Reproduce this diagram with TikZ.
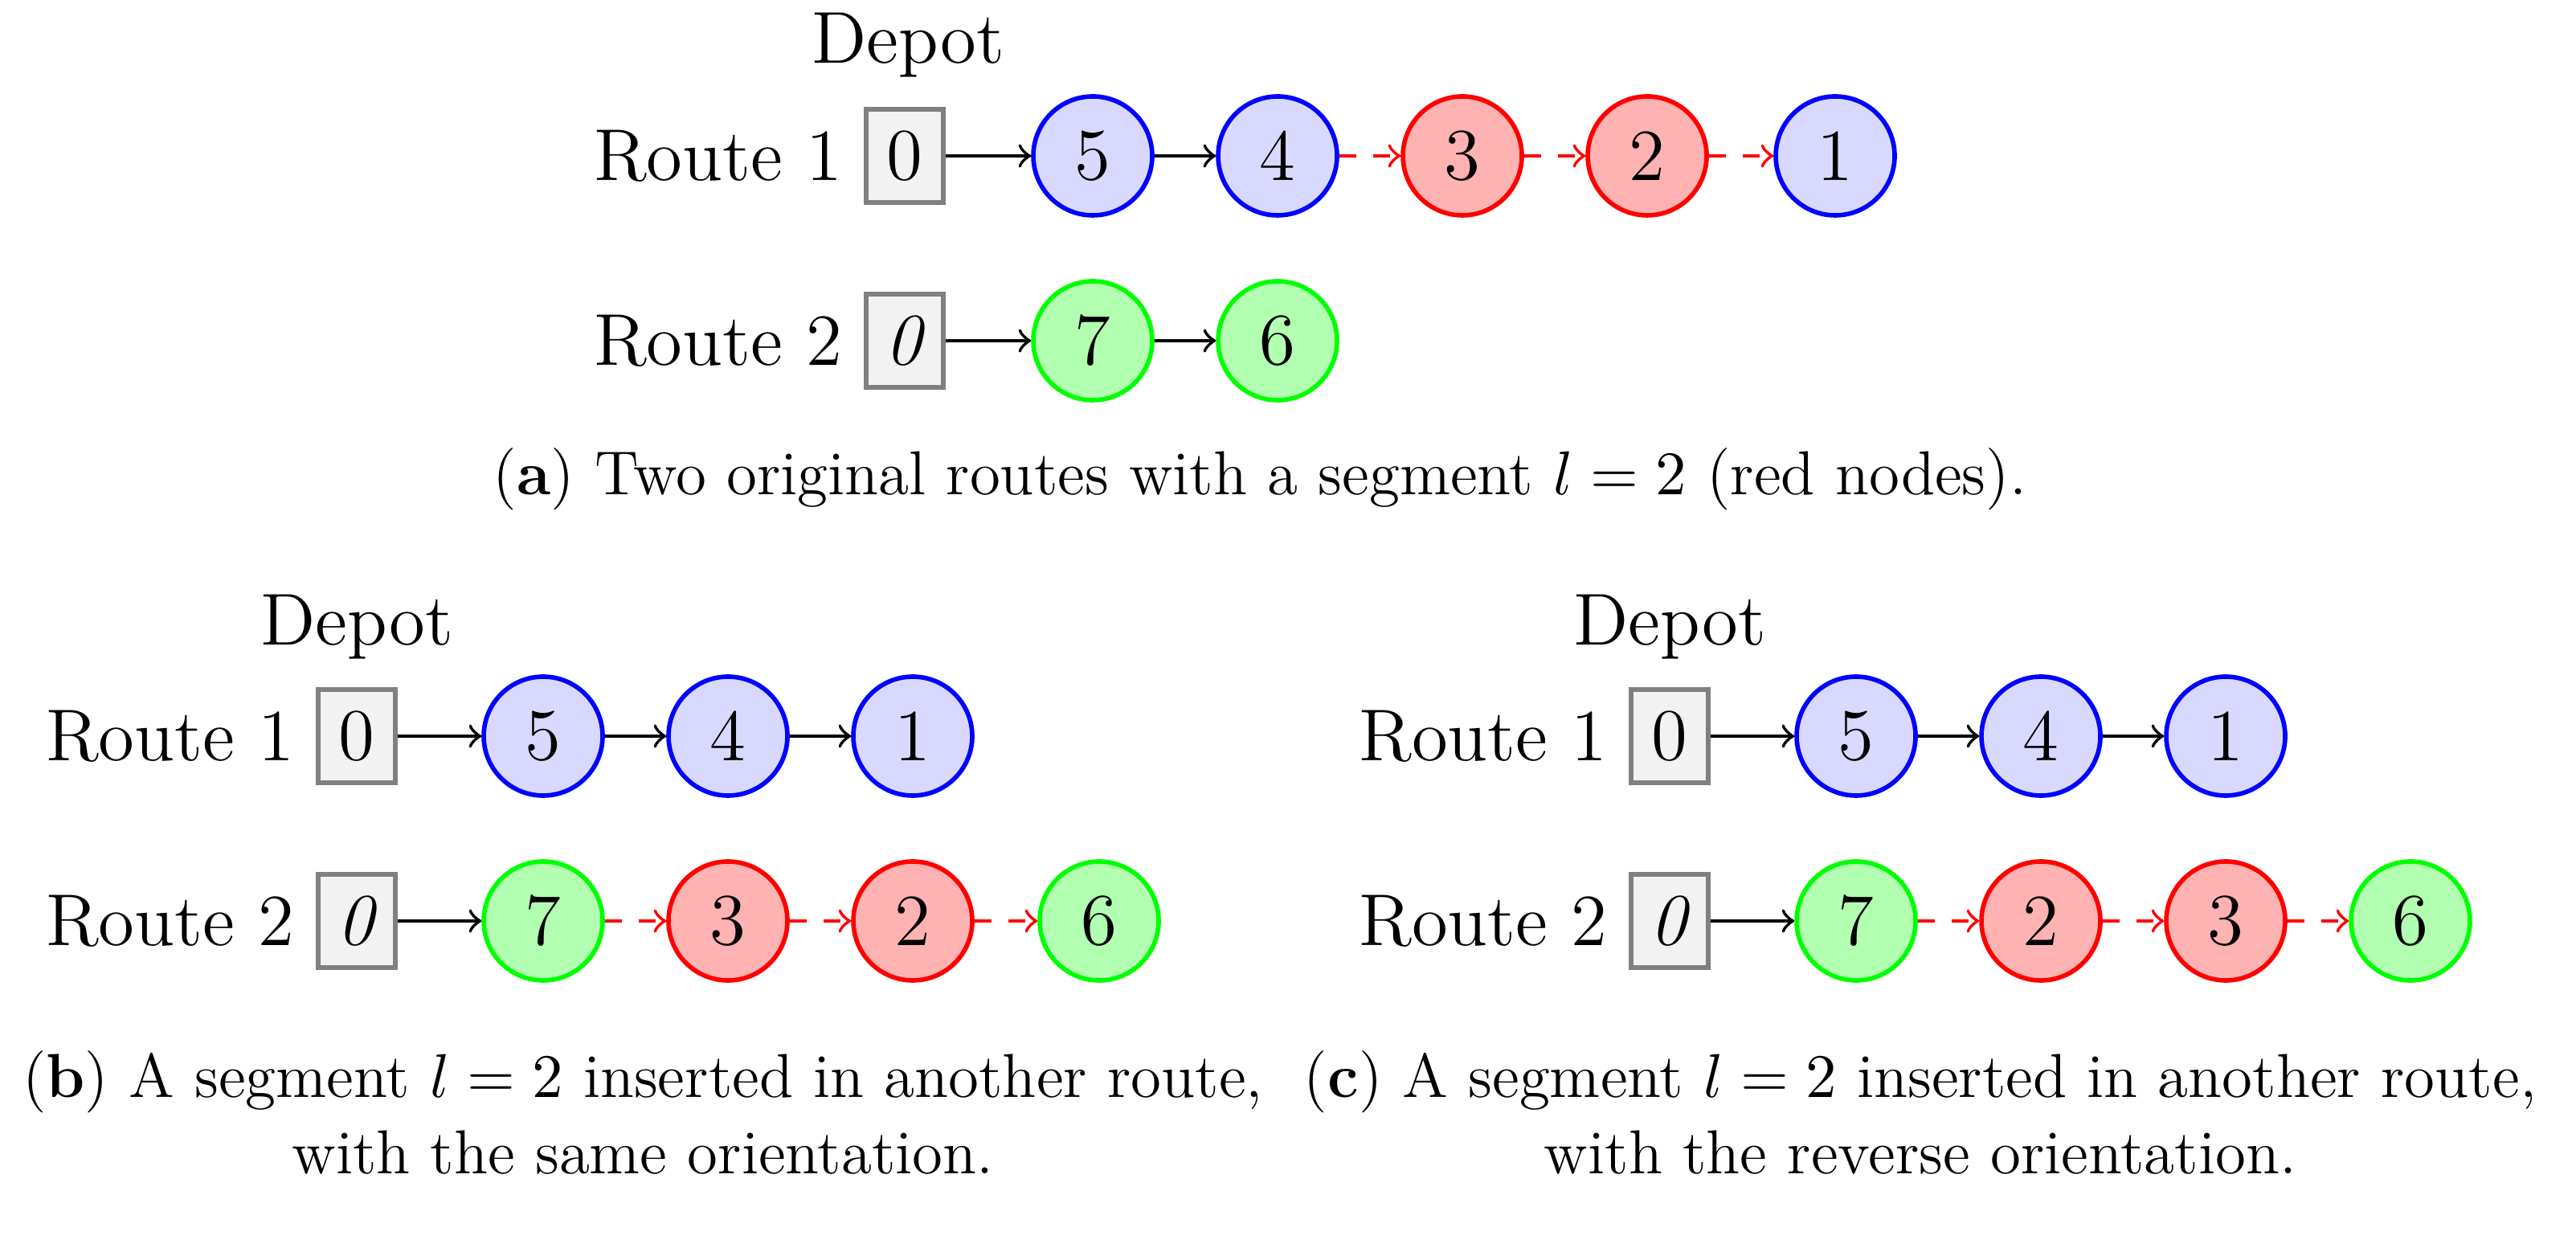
\documentclass[tikz,border=0pt]{standalone}
\usepackage{tikz}
\usetikzlibrary{positioning}
\begin{document}
\begin{tikzpicture}[
    font=\fontsize{13}{16}\selectfont,
    depot/.style={rectangle, draw=gray, fill=gray!10, thick, minimum width=0.48cm, minimum height=0.58cm, inner sep=1pt},
    blue node/.style={circle, draw=blue, fill=blue!15, thick, minimum size=0.74cm, inner sep=0pt},
    red node/.style={circle, draw=red, fill=red!30, thick, minimum size=0.74cm, inner sep=0pt},
    green node/.style={circle, draw=green, fill=green!30, thick, minimum size=0.74cm, inner sep=0pt},
    label/.style={anchor=east, inner sep=0pt},
    caption/.style={font=\fontsize{11}{13.5}\selectfont, align=center},
    arrow/.style={->, semithick},
    seg/.style={->, semithick, red, dashed}
]
\useasboundingbox (0,0) rectangle (16.03,-7.69);

% (a) original routes
\node (aDepot) at (5.65,-0.28) {Depot};
\node[label] (aR1) at (5.25,-0.97) {Route 1};
\node[depot] (a0) at (5.63,-0.97) {0};
\node[blue node] (a5) at (6.80,-0.97) {5};
\node[blue node] (a4) at (7.95,-0.97) {4};
\node[red node] (a3) at (9.10,-0.97) {3};
\node[red node] (a2) at (10.25,-0.97) {2};
\node[blue node] (a1) at (11.42,-0.97) {1};
\node[label] (aR2) at (5.25,-2.12) {Route 2};
\node[depot] (ao) at (5.63,-2.12) {\textit{0}};
\node[green node] (a7) at (6.80,-2.12) {7};
\node[green node] (a6) at (7.95,-2.12) {6};
\draw[arrow] (a0) -- (a5);
\draw[arrow] (a5) -- (a4);
\draw[seg] (a4) -- (a3);
\draw[seg] (a3) -- (a2);
\draw[seg] (a2) -- (a1);
\draw[arrow] (ao) -- (a7);
\draw[arrow] (a7) -- (a6);
\node[caption] (capA) at (7.84,-2.98) {(\textbf{a}) Two original routes with a segment $l=2$ (red nodes).};

% (b) same orientation
\node (bDepot) at (2.22,-3.90) {Depot};
\node[label] (bR1) at (1.84,-4.58) {Route 1};
\node[depot] (b0) at (2.22,-4.58) {0};
\node[blue node] (b5) at (3.38,-4.58) {5};
\node[blue node] (b4) at (4.53,-4.58) {4};
\node[blue node] (b1) at (5.68,-4.58) {1};
\node[label] (bR2) at (1.84,-5.73) {Route 2};
\node[depot] (bo) at (2.22,-5.73) {\textit{0}};
\node[green node] (b7) at (3.38,-5.73) {7};
\node[red node] (b3) at (4.53,-5.73) {3};
\node[red node] (b2) at (5.68,-5.73) {2};
\node[green node] (b6) at (6.84,-5.73) {6};
\draw[arrow] (b0) -- (b5);
\draw[arrow] (b5) -- (b4);
\draw[arrow] (b4) -- (b1);
\draw[arrow] (bo) -- (b7);
\draw[seg] (b7) -- (b3);
\draw[seg] (b3) -- (b2);
\draw[seg] (b2) -- (b6);
\node[caption] (capB) at (4.00,-6.92) {(\textbf{b}) A segment $l=2$ inserted in another route,\\with the same orientation.};

% (c) reverse orientation
\node (cDepot) at (10.39,-3.90) {Depot};
\node[label] (cR1) at (10.01,-4.58) {Route 1};
\node[depot] (c0) at (10.39,-4.58) {0};
\node[blue node] (c5) at (11.55,-4.58) {5};
\node[blue node] (c4) at (12.70,-4.58) {4};
\node[blue node] (c1) at (13.85,-4.58) {1};
\node[label] (cR2) at (10.01,-5.73) {Route 2};
\node[depot] (co) at (10.39,-5.73) {\textit{0}};
\node[green node] (c7) at (11.55,-5.73) {7};
\node[red node] (c2) at (12.70,-5.73) {2};
\node[red node] (c3) at (13.85,-5.73) {3};
\node[green node] (c6) at (15.00,-5.73) {6};
\draw[arrow] (c0) -- (c5);
\draw[arrow] (c5) -- (c4);
\draw[arrow] (c4) -- (c1);
\draw[arrow] (co) -- (c7);
\draw[seg] (c7) -- (c2);
\draw[seg] (c2) -- (c3);
\draw[seg] (c3) -- (c6);
\node[caption] (capC) at (11.95,-6.92) {(\textbf{c}) A segment $l=2$ inserted in another route,\\with the reverse orientation.};
\end{tikzpicture}
\end{document}
